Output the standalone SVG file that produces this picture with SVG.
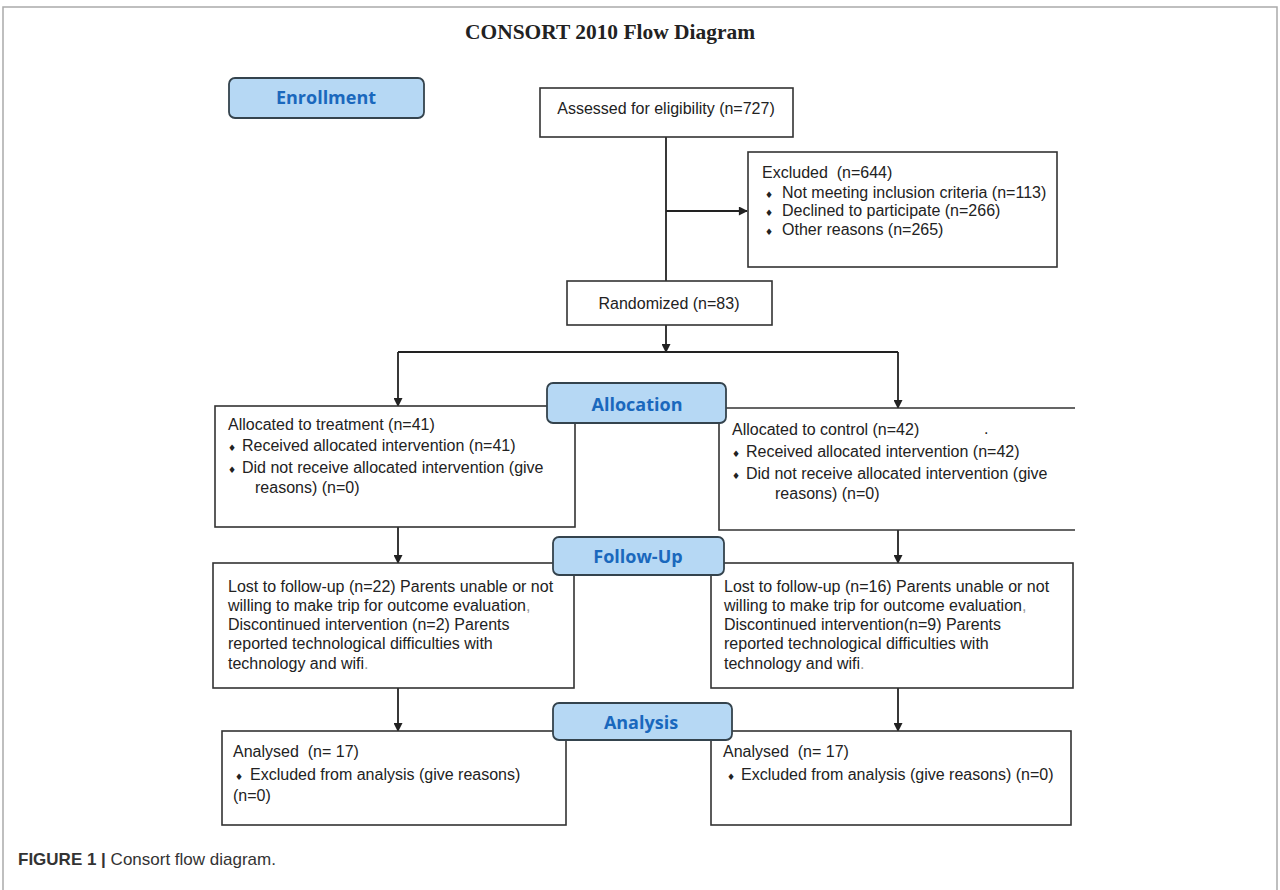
<svg xmlns="http://www.w3.org/2000/svg" width="1280" height="890" viewBox="0 0 1280 890">
<defs>
<marker id="ah" viewBox="0 0 10 10" refX="9" refY="5" markerWidth="10" markerHeight="9" markerUnits="userSpaceOnUse" orient="auto"><path d="M0,0 L10,5 L0,10 z" fill="#222"/></marker>
</defs>
<style>
.box{fill:#fff;stroke:#333;stroke-width:1.6}
.lbl{fill:#b6d8f4;stroke:#34434d;stroke-width:1.8}
.lt{font-family:"Open Sans","Liberation Sans",sans-serif;font-weight:bold;font-size:18px;fill:#1a68bd;text-anchor:middle}
.t{font-family:"Liberation Sans",Arial,sans-serif;font-size:16px;fill:#222}
.b{font-family:"DejaVu Sans",sans-serif;font-size:9px}
.ln{stroke:#222;stroke-width:1.8;fill:none}
</style>
<rect x="3" y="7" width="1274" height="900" fill="#fff" stroke="#aaa" stroke-width="1.5"/>
<text x="610" y="39" font-family="Liberation Serif,'Times New Roman',serif" font-weight="bold" font-size="22" text-anchor="middle" fill="#222" textLength="290" lengthAdjust="spacingAndGlyphs">CONSORT 2010 Flow Diagram</text>

<g id="connectors">
<path class="ln" d="M666,137 V281"/>
<path class="ln" d="M666,211 H747" marker-end="url(#ah)"/>
<path class="ln" d="M666,325 V352" marker-end="url(#ah)"/>
<path class="ln" d="M398,352 H898"/>
<path class="ln" d="M398,352 V406" marker-end="url(#ah)"/>
<path class="ln" d="M898,352 V408" marker-end="url(#ah)"/>
<path class="ln" d="M398,527 V563" marker-end="url(#ah)"/>
<path class="ln" d="M898,530 V563" marker-end="url(#ah)"/>
<path class="ln" d="M398,688 V731" marker-end="url(#ah)"/>
<path class="ln" d="M898,688 V731" marker-end="url(#ah)"/>
</g>

<g id="enrollment">
<rect class="lbl" x="229" y="78" width="195" height="40" rx="6"/>
<text class="lt" x="326" y="104">Enrollment</text>
</g>

<g id="assessed">
<rect class="box" x="540" y="88" width="253" height="49"/>
<text class="t" x="666" y="114" text-anchor="middle">Assessed for eligibility (n=727)</text>
</g>

<g id="excluded">
<rect class="box" x="748" y="152" width="309" height="115"/>
<text class="t" x="762" y="178">Excluded &#160;(n=644)</text>
<text class="t" x="765" y="198"><tspan class="b">♦</tspan><tspan x="782">Not meeting inclusion criteria (n=113)</tspan></text>
<text class="t" x="765" y="216"><tspan class="b">♦</tspan><tspan x="782">Declined to participate (n=266)</tspan></text>
<text class="t" x="765" y="235"><tspan class="b">♦</tspan><tspan x="782">Other reasons (n=265)</tspan></text>
</g>

<g id="randomized">
<rect class="box" x="567" y="281" width="205" height="44"/>
<text class="t" x="669" y="309" text-anchor="middle">Randomized (n=83)</text>
</g>

<g id="alloc-treatment">
<rect class="box" x="215" y="406" width="360" height="121"/>
<text class="t" x="228" y="430">Allocated to treatment (n=41)</text>
<text class="t" x="228" y="451"><tspan class="b">♦</tspan><tspan x="242">Received allocated intervention (n=41)</tspan></text>
<text class="t" x="228" y="473"><tspan class="b">♦</tspan><tspan x="242">Did not receive allocated intervention (give</tspan></text>
<text class="t" x="255" y="493">reasons) (n=0)</text>
</g>

<g id="alloc-control">
<path class="box" d="M1075,408 H719 V530 H1075"/>
<text class="t" x="732" y="435">Allocated to control (n=42)</text>
<text class="t" x="984" y="434">.</text>
<text class="t" x="732" y="457"><tspan class="b">♦</tspan><tspan x="746">Received allocated intervention (n=42)</tspan></text>
<text class="t" x="732" y="479"><tspan class="b">♦</tspan><tspan x="746">Did not receive allocated intervention (give</tspan></text>
<text class="t" x="775" y="499">reasons) (n=0)</text>
</g>

<g id="allocation">
<rect class="lbl" x="547" y="383" width="179" height="40" rx="6"/>
<text class="lt" x="637" y="411">Allocation</text>
</g>

<g id="followup-treatment">
<rect class="box" x="213" y="563" width="361" height="125"/>
<text class="t" x="228" y="592">Lost to follow-up (n=22) Parents unable or not</text>
<text class="t" x="228" y="611">willing to make trip for outcome evaluation<tspan fill="#999">,</tspan></text>
<text class="t" x="228" y="630">Discontinued intervention (n=2) Parents</text>
<text class="t" x="228" y="649">reported technological difficulties with</text>
<text class="t" x="228" y="669">technology and wifi<tspan fill="#999">.</tspan></text>
</g>

<g id="followup-control">
<rect class="box" x="711" y="563" width="362" height="125"/>
<text class="t" x="724" y="592">Lost to follow-up (n=16) Parents unable or not</text>
<text class="t" x="724" y="611">willing to make trip for outcome evaluation<tspan fill="#999">,</tspan></text>
<text class="t" x="724" y="630">Discontinued intervention(n=9) Parents</text>
<text class="t" x="724" y="649">reported technological difficulties with</text>
<text class="t" x="724" y="669">technology and wifi<tspan fill="#999">.</tspan></text>
</g>

<g id="followup">
<rect class="lbl" x="553" y="537" width="171" height="38" rx="6"/>
<text class="lt" x="638" y="563">Follow-Up</text>
</g>

<g id="analysis-treatment">
<rect class="box" x="222" y="731" width="344" height="94"/>
<text class="t" x="233" y="757">Analysed &#160;(n= 17)</text>
<text class="t" x="235" y="780"><tspan class="b">♦</tspan><tspan x="250">Excluded from analysis (give reasons)</tspan></text>
<text class="t" x="233" y="801">(n=0)</text>
</g>

<g id="analysis-control">
<rect class="box" x="711" y="731" width="360" height="94"/>
<text class="t" x="723" y="757">Analysed &#160;(n= 17)</text>
<text class="t" x="727" y="780"><tspan class="b">♦</tspan><tspan x="741">Excluded from analysis (give reasons) (n=0)</tspan></text>
</g>

<g id="analysis">
<rect class="lbl" x="553" y="703" width="179" height="37" rx="6"/>
<text class="lt" x="641" y="729">Analysis</text>
</g>

<text x="18" y="865" font-family="Liberation Sans,Arial,sans-serif" font-size="17" fill="#333"><tspan font-weight="bold">FIGURE 1 | </tspan>Consort flow diagram.</text>
</svg>
